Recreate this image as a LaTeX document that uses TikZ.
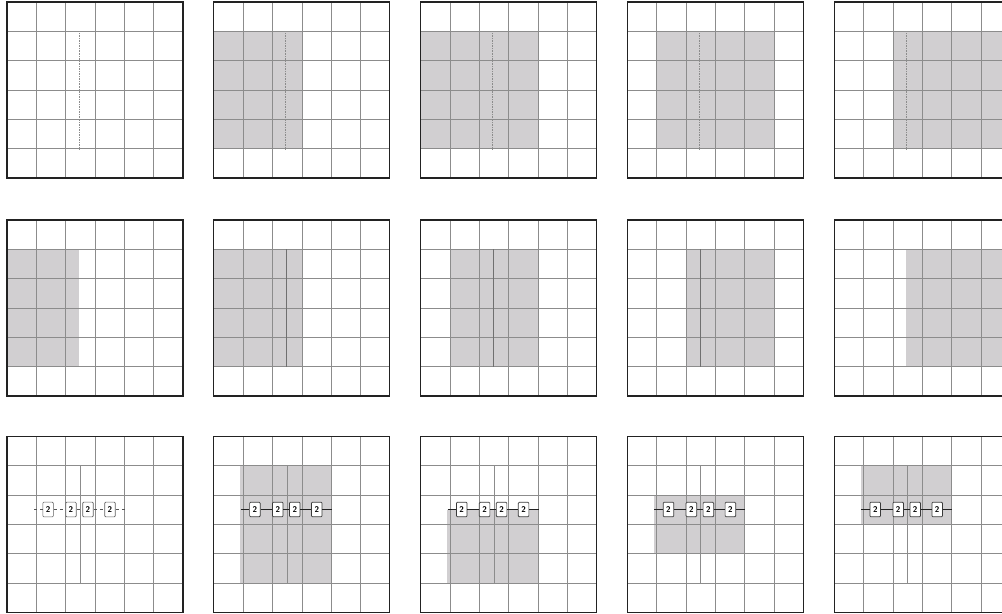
\documentclass[tikz,border=0pt]{standalone}
\usepackage{tikz}
\usetikzlibrary{positioning}
\definecolor{GRLine}{HTML}{8C8C8C}
\definecolor{GRFrame}{HTML}{222222}
\definecolor{GRShade}{HTML}{D1CFD1}
\definecolor{GRBox}{HTML}{3A3A3A}
\tikzset{
  gridline/.style={GRLine,line width=0.6pt},
  panelframe/.style={GRFrame,line width=1.2pt},
  shadearea/.style={fill=GRShade},
  splitline/.style={GRLine!80!black,line width=0.6pt},
  dotline/.style={GRLine,densely dotted,line width=0.6pt},
  linkline/.style={GRFrame,line width=0.7pt},
  linkdash/.style={GRLine!60!black,dashed,dash pattern=on 3pt off 3pt,line width=0.6pt},
  twobox/.style={draw=GRBox,fill=white,rounded corners=1pt,line width=0.7pt,minimum width=0.36cm,minimum height=0.5cm,inner sep=0pt,font=\fontsize{8}{8}\selectfont\sffamily\bfseries},
  twoboxlight/.style={twobox,draw=GRBox!80,line width=0.6pt}
}

\begin{document}
\begin{tikzpicture}[y=-1cm]
\useasboundingbox (0,0) rectangle (34.16,20.9);
\clip (0,0) rectangle (34.16,20.9);

% shaded windows, top row
\foreach \p/\xa/\xb in {1/0/3,2/0/4,3/1/5,4/2/6} {
  \begin{scope}[shift={(0.24+7.05*\p,0.07)}]
    \fill[shadearea] (\xa,1) rectangle (\xb,5);
  \end{scope}
}
% shaded windows, middle row
\foreach \p/\xa/\xb in {0/0/2.45,1/0/3,2/1/4,3/2/5,4/2.45/6} {
  \begin{scope}[shift={(0.24+7.05*\p,7.5)}]
    \fill[shadearea] (\xa,1) rectangle (\xb,5);
  \end{scope}
}
% shaded windows, bottom row
\foreach \p/\ya/\yb in {1/1/5,2/2.5/5,3/2/4,4/1/3} {
  \begin{scope}[shift={(0.24+7.05*\p,14.87)}]
    \fill[shadearea] (0.9,\ya) rectangle (4.0,\yb);
  \end{scope}
}

% grids
\foreach \r/\y in {0/0.07,1/7.5,2/14.87} {
  \foreach \p in {0,...,4} {
    \begin{scope}[shift={(0.24+7.05*\p,\y)}]
      \foreach \i in {1,...,5} {
        \draw[gridline] (\i,0) -- (\i,6);
        \draw[gridline] (0,\i) -- (6,\i);
      }
      \draw[panelframe] (0,0) rectangle (6,6);
    \end{scope}
  }
}

% top row: dotted split
\foreach \p in {0,...,4} {
  \begin{scope}[shift={(0.24+7.05*\p,0.07)}]
    \draw[dotline] (2.45,1) -- (2.45,5);
  \end{scope}
}
% middle row: solid split
\foreach \p in {1,2,3} {
  \begin{scope}[shift={(0.24+7.05*\p,7.5)}]
    \draw[splitline] (2.47,1) -- (2.47,5);
  \end{scope}
}

% bottom row: split and chain of boxes
\foreach \p/\ln/\bx in {0/linkdash/twoboxlight,1/linkline/twobox,2/linkline/twobox,3/linkline/twobox,4/linkline/twobox} {
  \begin{scope}[shift={(0.24+7.05*\p,14.87)}]
    \draw[gridline] (2.5,1) -- (2.5,5);
    \coordinate (s\p) at (0.92,2.5);
    \coordinate (e\p) at (4.02,2.5);
    \node[\bx] (b\p a) at (1.40,2.5) {2};
    \node[\bx] (b\p b) at (2.18,2.5) {2};
    \node[\bx] (b\p c) at (2.76,2.5) {2};
    \node[\bx] (b\p d) at (3.51,2.5) {2};
    \draw[\ln] (s\p) -- (b\p a) (b\p a) -- (b\p b) (b\p b) -- (b\p c) (b\p c) -- (b\p d) (b\p d) -- (e\p);
  \end{scope}
}
\end{tikzpicture}
\end{document}
